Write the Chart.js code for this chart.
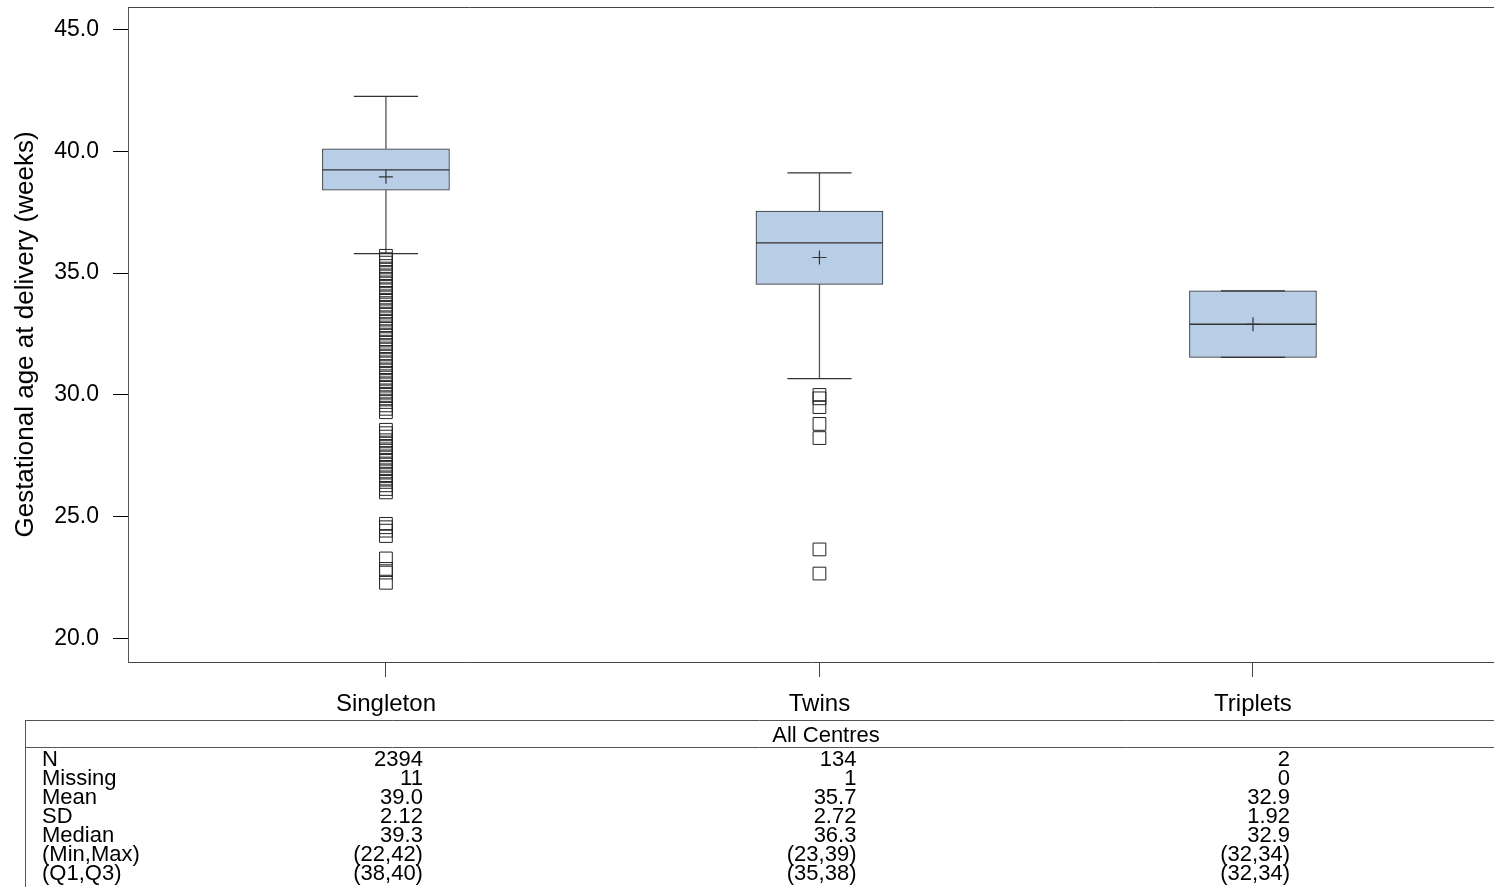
<!DOCTYPE html>
<html>
<head>
<meta charset="utf-8">
<title>Gestational age at delivery</title>
<script src="https://cdn.jsdelivr.net/npm/chart.js@4/dist/chart.umd.min.js"></script>
<style>
  html, body { margin: 0; padding: 0; background: #fff; overflow: hidden; }
  #chart { display: block; }
</style>
</head>
<body>
<canvas id="chart" width="1494" height="887"></canvas>
<script>
// box plot values (weeks)
const groups = ['Singleton', 'Twins', 'Triplets'];
const q1 = [38.40, 34.54, 31.54];
const median = [39.24, 36.24, 32.90];
const q3 = [40.10, 37.54, 34.27];
const mean = [38.95, 35.64, 32.90];
const whiskerLow = [35.80, 30.67, 31.54];
const whiskerHigh = [42.25, 39.11, 34.27];

const outSingleton = [
  35.71, 35.57, 35.43, 35.29, 35.14, 35.00, 34.86, 34.71, 34.57, 34.43, 34.29, 34.14,
  34.00, 33.86, 33.71, 33.57, 33.43, 33.29, 33.14, 33.00, 32.86, 32.71, 32.57, 32.43,
  32.29, 32.14, 32.00, 31.86, 31.71, 31.57, 31.43, 31.29, 31.14, 31.00, 30.86, 30.71,
  30.57, 30.43, 30.29, 30.14, 30.00, 29.86, 29.71, 29.57, 29.43, 29.29,
  28.57, 28.43, 28.29, 28.14, 28.00, 27.86, 27.71, 27.57, 27.43, 27.29, 27.14, 27.00,
  26.86, 26.71, 26.57, 26.43, 26.29, 26.14, 26.00,
  24.71, 24.57, 24.43, 24.21,
  23.29, 22.86, 22.71, 22.29
];
const outTwins = [30.00, 29.86, 29.50, 28.81, 28.23, 23.66, 22.67];
const outTriplets = [];

const yTicks = [20, 25, 30, 35, 40, 45];

// summary table under the plot
const rowLabels = ['N', 'Missing', 'Mean', 'SD', 'Median', '(Min,Max)', '(Q1,Q3)'];
const statsSingleton = ['2394', '11', '39.0', '2.12', '39.3', '(22,42)', '(38,40)'];
const statsTwins = ['134', '1', '35.7', '2.72', '36.3', '(23,39)', '(35,38)'];
const statsTriplets = ['2', '0', '32.9', '1.92', '32.9', '(32,34)', '(32,34)'];
const tableTitle = 'All Centres';

const FONT = "'Liberation Sans', Arial, Helvetica, sans-serif";
const BOX_HALF = 0.146;   // box half width in category units
const CAP_HALF = 0.074;   // whisker cap half width

// build segment lists (null breaks the line between groups)
function segs(fn){
  const pts = [];
  groups.forEach((g, i) => { fn(i).forEach(p => pts.push(p)); pts.push({x: i + 0.5, y: null}); });
  return pts;
}
const whiskerPts = segs(i => [
  {x: i, y: q3[i]}, {x: i, y: whiskerHigh[i]}, {x: i + 0.01, y: null},
  {x: i, y: q1[i]}, {x: i, y: whiskerLow[i]}
]);
const capPts = segs(i => [
  {x: i - CAP_HALF, y: whiskerHigh[i]}, {x: i + CAP_HALF, y: whiskerHigh[i]}, {x: i + 0.1, y: null},
  {x: i - CAP_HALF, y: whiskerLow[i]}, {x: i + CAP_HALF, y: whiskerLow[i]}
]);
const medianPts = segs(i => [{x: i - BOX_HALF, y: median[i]}, {x: i + BOX_HALF, y: median[i]}]);
const outlierPts = [outSingleton, outTwins, outTriplets]
  .flatMap((arr, i) => arr.map(v => ({x: i, y: v})));

const frame = {
  id: 'frame',
  afterDraw(chart){
    const {ctx, chartArea: a, scales: {x}} = chart;
    const W = chart.width, H = chart.height;
    ctx.save();
    ctx.strokeStyle = '#444';
    ctx.lineWidth = 1;
    ctx.beginPath();
    ctx.moveTo(a.left, a.top + 0.5);
    ctx.lineTo(a.right, a.top + 0.5);
    ctx.stroke();

    // table
    ctx.strokeStyle = '#555';
    ctx.beginPath();
    ctx.moveTo(25, 720.5); ctx.lineTo(W, 720.5);
    ctx.moveTo(25, 747.5); ctx.lineTo(W, 747.5);
    ctx.moveTo(25.5, 720); ctx.lineTo(25.5, H);
    ctx.stroke();

    ctx.fillStyle = '#000';
    ctx.font = '22px ' + FONT;
    ctx.textBaseline = 'alphabetic';
    ctx.textAlign = 'center';
    ctx.fillText(tableTitle, 826, 742);

    const cols = [statsSingleton, statsTwins, statsTriplets];
    rowLabels.forEach((lab, r) => {
      const yy = 766 + r * 19;
      ctx.textAlign = 'left';
      ctx.fillText(lab, 42, yy);
      ctx.textAlign = 'right';
      cols.forEach((col, i) => ctx.fillText(col[r], x.getPixelForValue(i) + 37, yy));
    });
    ctx.restore();
  }
};

new Chart(document.getElementById('chart'), {
  type: 'bar',
  data: {
    datasets: [
      {
        type: 'bar',
        data: groups.map((g, i) => ({x: i, y: [q1[i], q3[i]]})),
        backgroundColor: '#b8cee6',
        borderColor: '#2e2e2e',
        borderWidth: 1,
        borderSkipped: false,
        barThickness: 127,
        order: 3
      },
      {
        type: 'line',
        data: whiskerPts,
        borderColor: '#555',
        borderWidth: 1.3,
        pointRadius: 0,
        spanGaps: false,
        order: 4
      },
      {
        type: 'line',
        data: capPts,
        borderColor: '#333',
        borderWidth: 1.2,
        pointRadius: 0,
        spanGaps: false,
        order: 2
      },
      {
        type: 'line',
        data: medianPts,
        borderColor: '#333',
        borderWidth: 1.3,
        pointRadius: 0,
        spanGaps: false,
        order: 1
      },
      {
        type: 'scatter',
        data: groups.map((g, i) => ({x: i, y: mean[i]})),
        pointStyle: 'cross',
        pointRadius: 7,
        borderColor: '#333',
        borderWidth: 1.2,
        order: 0
      },
      {
        type: 'scatter',
        data: outlierPts,
        pointStyle: 'rect',
        pointRadius: 9,
        backgroundColor: 'rgba(0,0,0,0)',
        borderColor: '#222',
        borderWidth: 1,
        order: 0
      }
    ]
  },
  options: {
    responsive: false,
    animation: false,
    events: [],
    devicePixelRatio: 1,
    layout: { autoPadding: false, padding: { top: 7, right: 0, bottom: 169, left: 0 } },
    plugins: { legend: { display: false }, tooltip: { enabled: false } },
    scales: {
      x: {
        type: 'linear',
        min: -0.595,
        max: 2.556,
        offset: false,
        afterBuildTicks(s){ s.ticks = groups.map((g, i) => ({value: i})); },
        afterFit(s){ s.height = 56; s.paddingLeft = 0; s.paddingRight = 0; },
        ticks: {
          callback: v => groups[v],
          color: '#000',
          font: { family: FONT, size: 24 },
          padding: 13,
          maxRotation: 0,
          autoSkip: false
        },
        grid: { offset: false, drawOnChartArea: false, drawTicks: true, tickLength: 15, color: '#444' },
        border: { display: true, color: '#444', width: 1 }
      },
      y: {
        type: 'linear',
        min: 19.04,
        max: 45.92,
        afterBuildTicks(s){ s.ticks = yTicks.map(v => ({value: v})); },
        afterFit(s){ s.width = 128; s.paddingTop = 0; s.paddingBottom = 0; },
        ticks: {
          callback: v => Number(v).toFixed(1),
          color: '#000',
          font: { family: FONT, size: 23 },
          padding: 14
        },
        grid: { drawOnChartArea: false, drawTicks: true, tickLength: 15, color: '#000' },
        border: { display: true, color: '#555', width: 1 },
        title: {
          display: true,
          text: 'Gestational age at delivery (weeks)',
          color: '#000',
          font: { family: FONT, size: 26 },
          padding: { top: 10, bottom: 0 }
        }
      }
    }
  },
  plugins: [frame]
});
</script>
</body>
</html>
